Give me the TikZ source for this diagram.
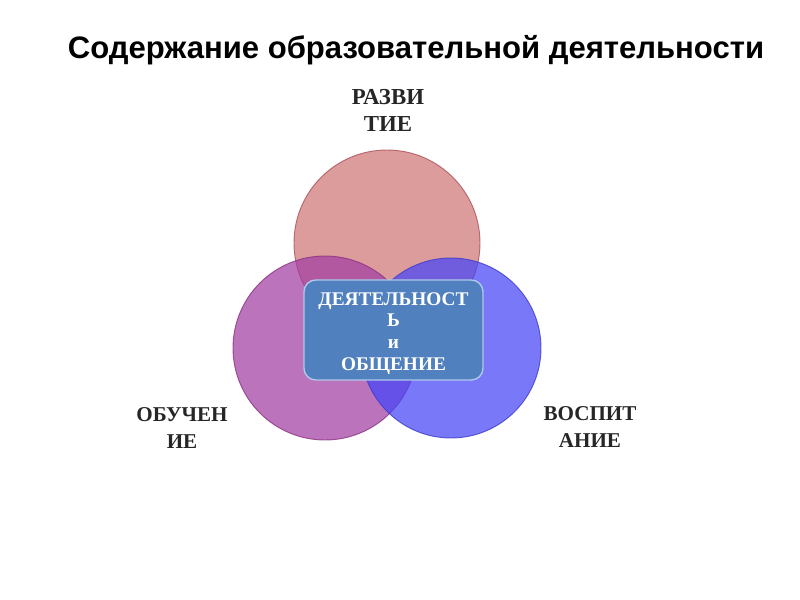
\documentclass[tikz,border=0pt]{standalone}
\usepackage{fontspec}
\setmainfont{Liberation Serif}
\newfontfamily\titlefont{Liberation Sans}
\definecolor{ctop}{RGB}{208,119,119}
\definecolor{cleft}{RGB}{162,62,162}
\definecolor{cright}{RGB}{69,69,248}
\definecolor{btop}{RGB}{170,80,90}
\definecolor{bleft}{RGB}{140,50,130}
\definecolor{bright}{RGB}{60,60,200}
\definecolor{boxfill}{RGB}{80,128,190}
\definecolor{boxedge}{RGB}{175,200,235}
\tikzset{
  venn/.style={circle, fill opacity=0.72, draw opacity=0.8, line width=0.8pt, inner sep=0pt},
  lbl/.style={font=\bfseries\fontsize{18}{23}\selectfont, align=center, text=black!85},
  centerbox/.style={rounded corners=10pt, fill=boxfill, draw=boxedge, line width=1.2pt},
}
\begin{document}
\begin{tikzpicture}[x=0.03cm, y=-0.03cm]
\useasboundingbox (0,0) rectangle (800,600);
\fill[white] (0,0) rectangle (800,600);
\node[font=\titlefont\bfseries\fontsize{26.5}{30}\selectfont] (title) at (416,50) {Содержание образовательной деятельности};
\node[venn, fill=ctop, draw=btop, minimum size=186*0.03cm] (top) at (387,243) {};
\node[venn, fill=cleft, draw=bleft, minimum size=184*0.03cm] (left) at (325,348) {};
\node[venn, fill=cright, draw=bright, minimum size=180*0.03cm] (right) at (451,348) {};
\draw[centerbox] (304,280) rectangle (483,380);
\node[text=white, font=\bfseries\fontsize{16.5}{18.6}\selectfont, align=center] (center) at (393.5,333.5) {ДЕЯТЕЛЬНОСТ\\Ь\\и\\ОБЩЕНИЕ};
\node[lbl, font=\bfseries\fontsize{19.5}{23}\selectfont] (razv) at (388,110) {РАЗВИ\\ТИЕ};
\node[lbl] (obuch) at (182,428) {ОБУЧЕН\\ИЕ};
\node[lbl] (vosp) at (590,427) {ВОСПИТ\\АНИЕ};
\end{tikzpicture}
\end{document}
